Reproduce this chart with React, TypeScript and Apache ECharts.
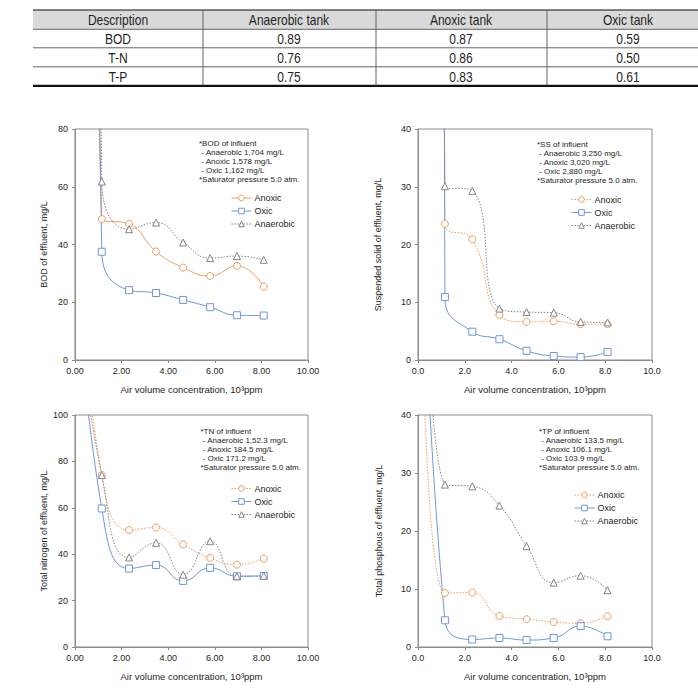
import React, { useEffect, useRef } from "react";
import * as echarts from "echarts";

// Air volume concentration (10^3 ppm); the first entry is the influent sample
const airVolume = [0, 1.15, 2.32, 3.48, 4.64, 5.8, 6.95, 8.1];

// BOD of effluent, mg/L (first value = influent)
const bodAnoxic = [1578, 48.8, 47.1, 37.6, 32.0, 29.1, 32.6, 25.4];
const bodOxic = [1162, 37.5, 24.2, 23.2, 20.8, 18.3, 15.5, 15.4];
const bodAnaerobic = [1704, 61.8, 45.3, 47.6, 40.7, 35.3, 36.0, 34.7];

// Suspended solid of effluent, mg/L
const ssAnoxic = [3020, 23.6, 20.9, 7.8, 6.6, 6.7, 6.2, 6.2];
const ssOxic = [2880, 10.9, 4.9, 3.6, 1.6, 0.7, 0.5, 1.4];
const ssAnaerobic = [3250, 30.1, 29.3, 8.9, 8.3, 8.2, 6.6, 6.5];

// Total nitrogen of effluent, mg/L
const tnAnoxic = [184.5, 74.1, 50.4, 51.5, 44.2, 38.4, 35.5, 38.1];
const tnOxic = [171.2, 59.7, 33.8, 35.3, 28.5, 34.1, 30.5, 30.6];
const tnAnaerobic = [152.3, 74.1, 38.6, 44.9, 31.2, 45.6, 30.5, 30.7];

// Total phosphous of effluent, mg/L
const tpAnoxic = [106.1, 9.3, 9.4, 5.35, 4.8, 4.3, 4.1, 5.3];
const tpOxic = [103.9, 4.6, 1.3, 1.55, 1.2, 1.55, 3.6, 1.85];
const tpAnaerobic = [133.5, 28.0, 27.7, 24.4, 17.4, 11.1, 12.3, 9.8];

// Removal efficiency table
const tableHeader = ["Description", "Anaerobic tank", "Anoxic tank", "Oxic tank"];
const tableItems = ["BOD", "T-N", "T-P"];
const anaerobicTank = [0.89, 0.76, 0.75];
const anoxicTank = [0.87, 0.86, 0.83];
const oxicTank = [0.59, 0.5, 0.61];

const seriesNames = ["Anoxic", "Oxic", "Anaerobic"];

const FONT = '"Liberation Sans", Arial, sans-serif';
const TEXT = "#262626";
const C_ANOXIC = "#EE9D60";
const C_OXIC = "#6F98D5";
const C_ANAEROBIC = "#858585";
const DOTS = [1.5, 1.5];

const panels = [
  {
    anoxic: bodAnoxic, oxic: bodOxic, anaerobic: bodAnaerobic,
    yMax: 80, yStep: 20, xDigits: 2, yTitle: "BOD of effluent, mg/L", yNameGap: 27,
    anoxicLine: "solid" as any,
    grid: { left: 75, top: 129, width: 233, height: 231 },
    legend: { left: 231, top: 193.5 },
    note: { x: 199, y: 139 },
    noteLines: ["*BOD of influent", " - Anaerobic 1,704 mg/L", " - Anoxic 1,578 mg/L", " - Oxic 1,162 mg/L", "*Saturator pressure 5.0 atm."],
  },
  {
    anoxic: ssAnoxic, oxic: ssOxic, anaerobic: ssAnaerobic,
    yMax: 40, yStep: 10, xDigits: 1, yTitle: "Suspended solid of effluent, mg/L", yNameGap: 36,
    anoxicLine: DOTS as any,
    grid: { left: 418, top: 129, width: 234, height: 231 },
    legend: { left: 571, top: 195 },
    note: { x: 537, y: 140 },
    noteLines: ["*SS of influent", " - Anaerobic 3,250 mg/L", " - Anoxic 3,020 mg/L", " - Oxic 2,880 mg/L", "*Saturator pressure 5.0 atm."],
  },
  {
    anoxic: tnAnoxic, oxic: tnOxic, anaerobic: tnAnaerobic,
    yMax: 100, yStep: 20, xDigits: 2, yTitle: "Total nitrogen of effluent, mg/L", yNameGap: 27,
    anoxicLine: DOTS as any,
    grid: { left: 75, top: 415, width: 233, height: 232 },
    legend: { left: 231, top: 484 },
    note: { x: 200.5, y: 426.5 },
    noteLines: ["*TN of influent", " - Anaerobic 1,52.3 mg/L", " - Anoxic 184.5 mg/L", " - Oxic 171.2 mg/L", "*Saturator pressure 5.0 atm."],
  },
  {
    anoxic: tpAnoxic, oxic: tpOxic, anaerobic: tpAnaerobic,
    yMax: 40, yStep: 10, xDigits: 1, yTitle: "Total phosphous of effluent, mg/L", yNameGap: 35,
    anoxicLine: DOTS as any,
    grid: { left: 418, top: 415, width: 234, height: 232 },
    legend: { left: 574, top: 490.5 },
    note: { x: 539, y: 427 },
    noteLines: ["*TP of influent", " - Anaerobic 133.5 mg/L", " - Anoxic 106.1 mg/L", " - Oxic 103.9 mg/L", "*Saturator pressure 5.0 atm."],
  },
];

function lineSeries(name: string, values: number[], color: string, symbol: string, lineType: any, idx: number) {
  return {
    type: "line",
    name: `${name}#${idx}`,
    xAxisIndex: idx,
    yAxisIndex: idx,
    data: values.map((v, i) => [airVolume[i], v]),
    smooth: 0.5,
    clip: true,
    symbol,
    symbolSize: 7,
    showSymbol: true,
    lineStyle: { color, width: 1, type: lineType },
    itemStyle: { color: "#ffffff", borderColor: color, borderWidth: 1 },
    emphasis: { disabled: true },
  };
}

function buildTable() {
  const els: any[] = [];
  const left = 33;
  const right = 698;
  const rowLines = [10, 29.3, 47.8, 66.8, 85.8];
  const colLines = [203, 376, 547];
  const colCenters = [118, 289, 461, 628];

  els.push({
    type: "rect", silent: true,
    shape: { x: left, y: rowLines[0], width: right - left, height: rowLines[1] - rowLines[0] },
    style: { fill: "#d9d9d9" },
  });
  rowLines.forEach((y, i) => {
    const edge = i === 0 || i === rowLines.length - 1;
    els.push({
      type: "line", silent: true,
      shape: { x1: left, y1: y, x2: right, y2: y },
      style: { stroke: edge ? "#111" : "#555", lineWidth: i === 0 ? 1.2 : i === rowLines.length - 1 ? 2.2 : 0.9 },
    });
  });
  colLines.forEach((x) => {
    els.push({
      type: "line", silent: true,
      shape: { x1: x, y1: rowLines[0], x2: x, y2: rowLines[rowLines.length - 1] },
      style: { stroke: "#555", lineWidth: 0.9 },
    });
  });
  const rows: string[][] = [tableHeader];
  tableItems.forEach((item, i) => {
    rows.push([item, anaerobicTank[i].toFixed(2), anoxicTank[i].toFixed(2), oxicTank[i].toFixed(2)]);
  });
  rows.forEach((cells, r) => {
    const cy = (rowLines[r] + rowLines[r + 1]) / 2;
    cells.forEach((txt, c) => {
      // condensed face: narrow the glyphs horizontally
      els.push({
        type: "text", silent: true,
        x: colCenters[c], y: cy + 0.5, scaleX: 0.86,
        style: { text: txt, fill: "#1f1f1f", font: `14px ${FONT}`, align: "center", verticalAlign: "middle" },
      });
    });
  });
  return els;
}

export default function App() {
  const ref = useRef<HTMLDivElement>(null);

  useEffect(() => {
    if (!ref.current) return;
    const chart = echarts.init(ref.current, undefined, { renderer: "svg" });

    const axisLine = { show: true, lineStyle: { color: "#8c8c8c", width: 1 } };
    const axisTick = { show: true, length: 3, lineStyle: { color: "#8c8c8c" } };
    const labelStyle = { fontSize: 9, color: TEXT, fontFamily: FONT };

    const option: any = {
      animation: false,
      backgroundColor: "#ffffff",
      grid: panels.map((p) => ({ ...p.grid, show: true, borderColor: "#8c8c8c", borderWidth: 1, backgroundColor: "transparent" })),
      xAxis: panels.map((p, i) => ({
        type: "value", gridIndex: i, min: 0, max: 10, interval: 2,
        axisLine, axisTick, splitLine: { show: false },
        axisLabel: { ...labelStyle, margin: 6, formatter: (v: number) => v.toFixed(p.xDigits) },
        name: "Air volume concentration, 10³ppm",
        nameLocation: "middle", nameGap: 24,
        nameTextStyle: { fontSize: 9.5, color: TEXT, fontFamily: FONT },
      })),
      yAxis: panels.map((p, i) => ({
        type: "value", gridIndex: i, min: 0, max: p.yMax, interval: p.yStep,
        axisLine, axisTick, splitLine: { show: false },
        axisLabel: { ...labelStyle, margin: 7 },
        name: p.yTitle, nameLocation: "middle", nameGap: p.yNameGap,
        nameTextStyle: { fontSize: 9, color: TEXT, fontFamily: FONT },
      })),
      legend: panels.map((p, i) => ({
        orient: "vertical", left: p.legend.left, top: p.legend.top, padding: 0,
        itemWidth: 20, itemHeight: 7, itemGap: 4, selectedMode: false,
        data: seriesNames.map((n) => `${n}#${i}`),
        formatter: (n: string) => n.split("#")[0],
        lineStyle: { width: 1 },
        itemStyle: { borderWidth: 1 },
        textStyle: { fontSize: 9, color: TEXT, fontFamily: FONT, padding: [0, 0, 0, -2] },
      })),
      series: panels.flatMap((p, i) => [
        lineSeries("Anoxic", p.anoxic, C_ANOXIC, "circle", p.anoxicLine, i),
        lineSeries("Oxic", p.oxic, C_OXIC, "rect", "solid", i),
        lineSeries("Anaerobic", p.anaerobic, C_ANAEROBIC, "triangle", DOTS, i),
      ]),
      graphic: {
        elements: [
          ...buildTable(),
          ...panels.map((p) => ({
            type: "text", silent: true, x: p.note.x, y: p.note.y,
            style: {
              text: p.noteLines.join("\n"), fill: TEXT, font: `8px ${FONT}`,
              lineHeight: 9, verticalAlign: "top", align: "left",
            },
          })),
        ],
      },
    };

    chart.setOption(option);
    return () => chart.dispose();
  }, []);

  return (
    <div
      ref={ref}
      style={{ position: "absolute", left: 0, top: 0, width: 698, height: 690, background: "#fff" }}
    />
  );
}
